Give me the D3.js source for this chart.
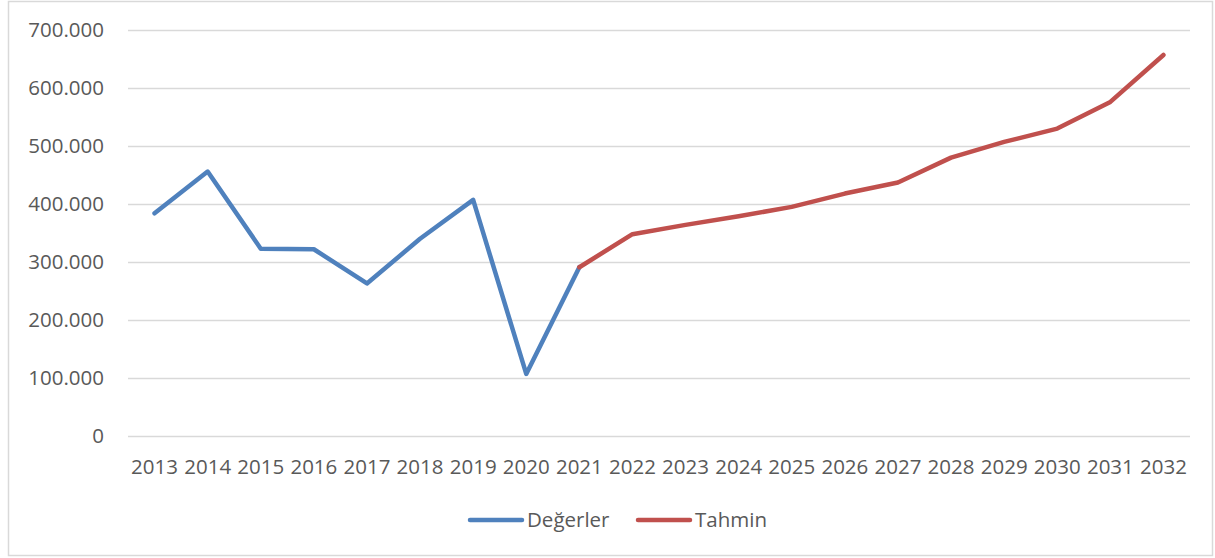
<!DOCTYPE html>
<html>
<head>
<meta charset="utf-8">
<script src="https://cdn.jsdelivr.net/npm/d3@7"></script>
<style>
    body { margin: 0; background: #fff; }
    svg { display: block; font-family: "Open Sans", sans-serif; }
</style>
</head>
<body>
<div id="chart"></div>
<script>
// years on the x axis
var years = ["2013", "2014", "2015", "2016", "2017", "2018", "2019", "2020", "2021", "2022",
    "2023", "2024", "2025", "2026", "2027", "2028", "2029", "2030", "2031", "2032"];

// observed values (Değerler), 2013-2021
var degerler = [384000, 456000, 323000, 322000, 263000, 340000, 407000, 107000, 291000,
    null, null, null, null, null, null, null, null, null, null, null];

// forecast values (Tahmin), 2021-2032
var tahmin = [null, null, null, null, null, null, null, null, 291000,
    348000, 364000, 379000, 395000, 418000, 437000, 480000, 507000, 530000, 576000, 657000];

var yTicks = [0, 100000, 200000, 300000, 400000, 500000, 600000, 700000];

var seriesNames = ["Değerler", "Tahmin"];
var seriesColors = ["#4F81BD", "#C0504D"];

var W = 1215, H = 558;
var margin = {top: 30, right: 25, bottom: 122, left: 128},
    width = W - margin.left - margin.right,
    height = H - margin.top - margin.bottom;

var svg = d3.select("#chart")
    .append("svg")
    .attr("width", W)
    .attr("height", H);

// chart area border
svg.append("rect")
    .attr("x", 8.5)
    .attr("y", 1.5)
    .attr("width", 1204)
    .attr("height", 554)
    .attr("fill", "#fff")
    .attr("stroke", "#D9D9D9")
    .attr("stroke-width", 1.5);

var g = svg.append("g")
    .attr("transform", "translate(" + margin.left + "," + margin.top + ")");

var x = d3.scaleBand()
    .domain(years)
    .range([0, width]);

var y = d3.scaleLinear()
    .domain([0, 700000])
    .range([height, 0]);

var tr = d3.formatLocale({decimal: ",", thousands: ".", grouping: [3], currency: ["", "₺"]});
var fmt = tr.format(",.0f");

// gridlines
g.append("g")
    .selectAll("line")
    .data(yTicks)
    .enter().append("line")
    .attr("x1", 0)
    .attr("x2", width)
    .attr("y1", function (d) { return Math.round(y(d)) + 0.5; })
    .attr("y2", function (d) { return Math.round(y(d)) + 0.5; })
    .attr("stroke", "#D9D9D9")
    .attr("stroke-width", 1.5);

// y axis labels
var yAxis = g.append("g")
    .call(d3.axisLeft(y).tickValues(yTicks).tickFormat(fmt).tickSize(0).tickPadding(24));
yAxis.select(".domain").remove();
yAxis.selectAll("text")
    .attr("fill", "#595959")
    .style("font-size", "20.5px")
    .style("font-family", "Open Sans, sans-serif");

// x axis labels
var xAxis = g.append("g")
    .attr("transform", "translate(0," + height + ")")
    .call(d3.axisBottom(x).tickSize(0).tickPadding(23));
xAxis.select(".domain").remove();
xAxis.selectAll("text")
    .attr("fill", "#595959")
    .style("font-size", "20.5px")
    .style("font-family", "Open Sans, sans-serif");

// lines
var line = d3.line()
    .defined(function (d) { return d != null; })
    .x(function (d, i) { return x(years[i]) + x.bandwidth() / 2; })
    .y(function (d) { return y(d); });

[degerler, tahmin].forEach(function (s, k) {
    g.append("path")
        .datum(s)
        .attr("fill", "none")
        .attr("stroke", seriesColors[k])
        .attr("stroke-width", 4.5)
        .attr("stroke-linejoin", "round")
        .attr("stroke-linecap", "round")
        .attr("d", line);
});

// legend
var legendX = [468, 636];
var legend = svg.selectAll(".legend")
    .data(seriesNames)
    .enter().append("g")
    .attr("class", "legend")
    .attr("transform", function (d, i) {
        return "translate(" + legendX[i] + ",520)";
    });

legend.append("line")
    .attr("x1", 2)
    .attr("x2", 54)
    .attr("stroke", function (d, i) { return seriesColors[i]; })
    .attr("stroke-width", 4.5)
    .attr("stroke-linecap", "round");

legend.append("text")
    .attr("x", 59)
    .attr("dy", ".35em")
    .attr("fill", "#595959")
    .style("font-size", "20.5px")
    .text(function (d) { return d; });
</script>
</body>
</html>
